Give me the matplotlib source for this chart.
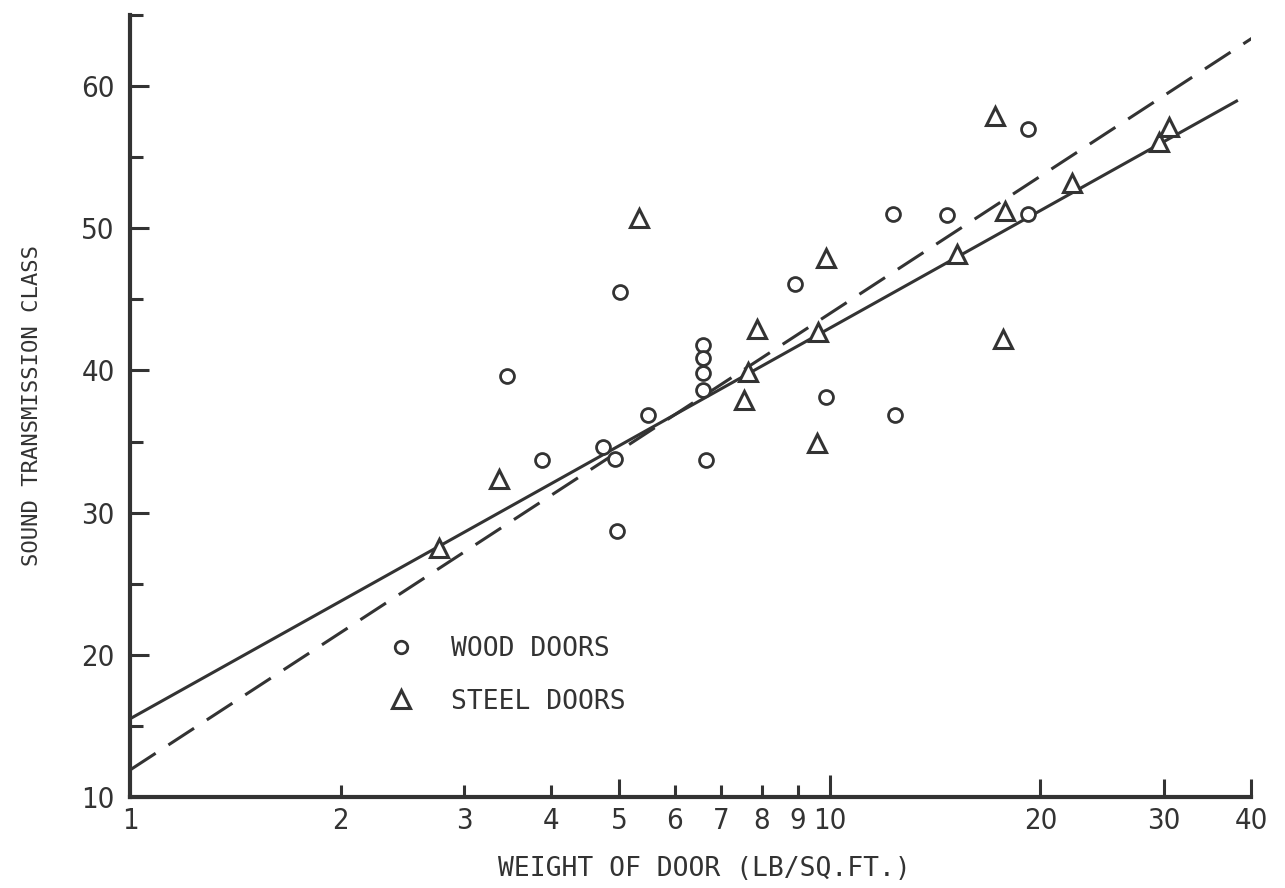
import matplotlib
matplotlib.use("Agg")
import matplotlib.pyplot as plt
from matplotlib.lines import Line2D

# wood doors (weight lb/sq.ft, STC)
wood_w = [3.46, 3.88, 4.74, 4.93, 4.96, 5.01, 5.50, 6.59, 6.59, 6.59, 6.59, 6.65,
          8.91, 9.87, 12.3, 12.4, 14.7, 19.2, 19.2]
wood_stc = [39.6, 33.7, 34.6, 33.8, 28.7, 45.5, 36.9, 41.8, 40.9, 39.8, 38.6, 33.7,
            46.1, 38.1, 51.0, 36.9, 50.9, 57.0, 51.0]

# steel doors
steel_w = [2.76, 3.37, 5.34, 7.54, 7.64, 7.86, 9.58, 9.61, 9.87, 15.2, 17.2, 17.7,
           17.8, 22.2, 29.5, 30.5]
steel_stc = [27.5, 32.4, 50.7, 37.9, 39.9, 42.9, 34.9, 42.7, 47.9, 48.2, 57.9, 42.2,
             51.2, 53.2, 56.1, 57.1]

# regression lines (end points)
solid_w = [1.0, 38.3]
solid_stc = [15.5, 59.0]
dashed_w = [1.0, 40.5]
dashed_stc = [11.9, 63.5]

xticks = [1, 2, 3, 4, 5, 6, 7, 8, 9, 10, 20, 30, 40]
xlabels = ['1', '2', '3', '4', '5', '6', '7', '8', '9', '10', '20', '30', '40']
yticks = [10, 20, 30, 40, 50, 60]

ink = '#333333'
mono = 'DejaVu Sans Mono'

fig = plt.figure(figsize=(12.85, 8.88), dpi=100)
ax = fig.add_axes([0.1012, 0.1025, 0.8724, 0.8806])
ax.set_xscale('log')
ax.set_xlim(1, 40)
ax.set_ylim(10, 65)

ax.plot(solid_w, solid_stc, color=ink, lw=2.2, solid_capstyle='butt')
ax.plot(dashed_w, dashed_stc, color=ink, lw=2.2, dashes=(10, 5))

ax.plot(wood_w, wood_stc, 'o', ms=10, mfc='white', mec=ink, mew=2.0, ls='none')
ax.plot(steel_w, steel_stc, '^', ms=13, mfc='white', mec=ink, mew=2.2, ls='none')

for s in ['top', 'right']:
    ax.spines[s].set_visible(False)
for s in ['left', 'bottom']:
    ax.spines[s].set_linewidth(3)
    ax.spines[s].set_color(ink)

ax.xaxis.set_minor_locator(matplotlib.ticker.NullLocator())
ax.set_xticks(xticks)
ax.set_xticklabels(xlabels)
ax.set_yticks(yticks)
ax.set_yticks([15, 25, 35, 45, 55, 65], minor=True)
ax.tick_params(axis='both', which='both', direction='in', color=ink, width=2.2,
               labelcolor=ink, labelsize=21)
ax.tick_params(axis='y', which='major', length=14, pad=11)
ax.tick_params(axis='y', which='minor', length=9)
ax.tick_params(axis='x', which='major', length=9, pad=7)
tick_len = {5: 13, 10: 16, 20: 13, 30: 13, 40: 13, 1: 0}
for t, v in zip(ax.xaxis.get_major_ticks(), xticks):
    if v in tick_len:
        t.tick1line.set_markersize(tick_len[v])
for lab in ax.get_xticklabels() + ax.get_yticklabels():
    lab.set_family('DejaVu Sans')
    lab.set_stretch('condensed')

ax.set_xlabel('WEIGHT OF DOOR (LB/SQ.FT.)', family=mono, fontsize=19, color=ink,
              labelpad=15)
ax.xaxis.label.set_x(0.512)
ax.set_ylabel('SOUND TRANSMISSION CLASS', family=mono, fontsize=16, color=ink,
              labelpad=28)

handles = [
    Line2D([], [], marker='o', ms=9, mfc='white', mec=ink, mew=2.0, ls='none'),
    Line2D([], [], marker='^', ms=13, mfc='white', mec=ink, mew=2.2, ls='none'),
]
leg = ax.legend(handles, ['WOOD DOORS', 'STEEL DOORS'], loc='upper left',
                bbox_to_anchor=(0.197, 0.236), frameon=False, handletextpad=0.9,
                labelspacing=1.0, prop={'family': mono, 'size': 19})
for t in leg.get_texts():
    t.set_color(ink)

fig.savefig('out.png', dpi=100, facecolor='white')
